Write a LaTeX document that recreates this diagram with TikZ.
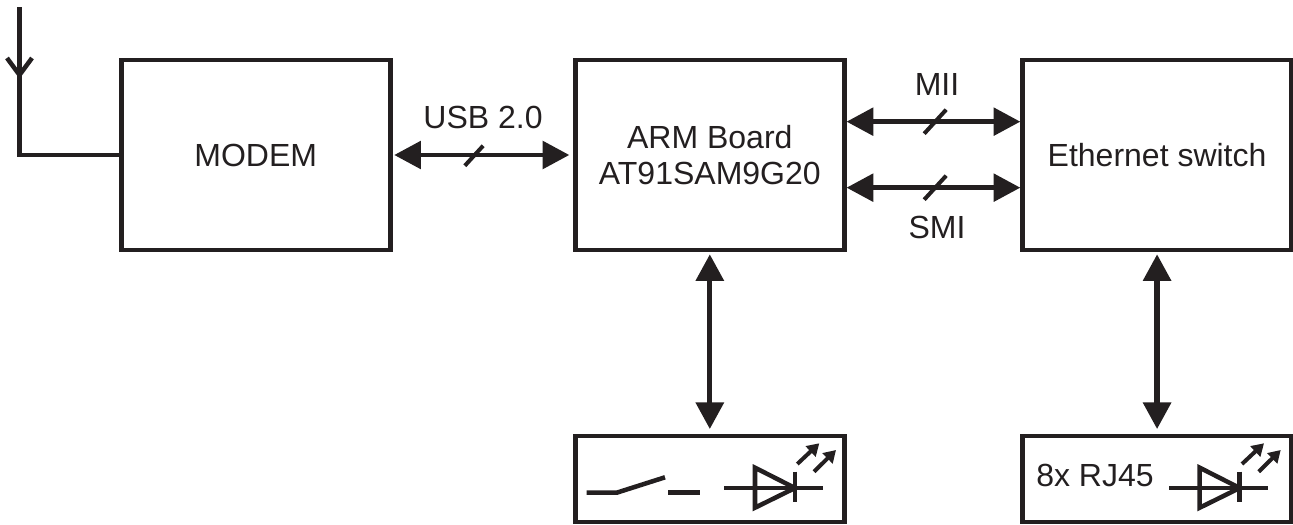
\documentclass[tikz,border=0pt]{standalone}
\usepackage{fontspec}
\setmainfont{Liberation Sans}
\usepackage{xcolor}
\definecolor{ink}{RGB}{35,31,32}
\usetikzlibrary{arrows.meta,positioning}
\tikzset{
  block/.style={draw=ink,line width=3.4pt,text=ink,align=center,%
    font=\fontsize{24}{27}\selectfont,inner sep=0pt,%
    minimum width=201.75pt,minimum height=142.5pt},
  panel/.style={block,minimum height=64.5pt},
  lbl/.style={text=ink,inner sep=0pt,font=\fontsize{24}{27}\selectfont},
  wire/.style={draw=ink,line width=3.4pt},
  bus/.style={{Triangle[length=20pt,width=20.5pt]}-{Triangle[length=20pt,width=20.5pt]},%
    draw=ink,fill=ink,line width=3.4pt},
  riser/.style={bus,line width=4pt,shorten <=1.5pt,shorten >=3.5pt},
  tick/.style={-,draw=ink,line width=3pt},
  glow/.style={-{Triangle[length=9pt,width=10.5pt]},draw=ink,fill=ink,line width=3pt},
  busmark/.pic={\draw[tick] (-11,12) -- (11,-12);},
  led/.pic={
    \draw[wire] (-70.7,0) -- (28.3,0);
    \draw[wire,miter limit=20] (-40,-20.3) -- (0,0) -- (-40,19.7) -- cycle;
    \draw[wire] (0,-16.3) -- (0,14.3);
    \draw[glow] (2.3,-24) -- (24.3,-44.7);
    \draw[glow] (19,-16.3) -- (41,-38);
  },
}
\begin{document}
\begin{tikzpicture}[x=0.75pt,y=-0.75pt]
\useasboundingbox (0,0) rectangle (1293,525);
\node[block] (modem) at (255.75,155) {MODEM};
\node[block,right=135.4pt of modem] (arm) {ARM Board\\AT91SAM9G20};
\node[block,right=130.3pt of arm] (eth) {Ethernet switch};
\node[panel,below=136.1pt of arm] (ctl) {};
\node[panel,below=136.1pt of eth] (rj) {};
\node[lbl] (usb) at (483,117) {USB 2.0};
\node[lbl] (mii) at (937,84) {MII};
\node[lbl] (smi) at (937,227) {SMI};
\node[lbl] (rjtext) at (1095,475) {8x RJ45};
\coordinate (top) at (19.5,7);
\coordinate (tip) at (19.5,75);
\coordinate (corner) at (19.5,155);
\coordinate (barbl) at (7,58);
\coordinate (barbr) at (32,58);
\draw[wire] (top) -- (corner) -- (modem.west);
\draw[wire] (barbl) -- (tip) -- (barbr);
\draw[bus,shorten <=1.3pt,shorten >=2.8pt] (modem) -- pic[pos=.455]{busmark} (arm);
\draw[bus] ([yshift=25pt]arm.east) -- pic[pos=.51]{busmark} ([yshift=25pt]eth.west);
\draw[bus] ([yshift=-24.5pt]arm.east) -- pic[pos=.51]{busmark} ([yshift=-24.5pt]eth.west);
\draw[riser] (arm) -- (ctl);
\draw[riser] (eth) -- (rj);
\draw[wire] (586.7,492.7) -- (616.7,492.7) -- (665,477.3);
\draw[wire] (668.3,492.7) -- (700,492.7);
\pic at (795,488) {led};
\pic at (1239.7,488) {led};
\end{tikzpicture}
\end{document}
